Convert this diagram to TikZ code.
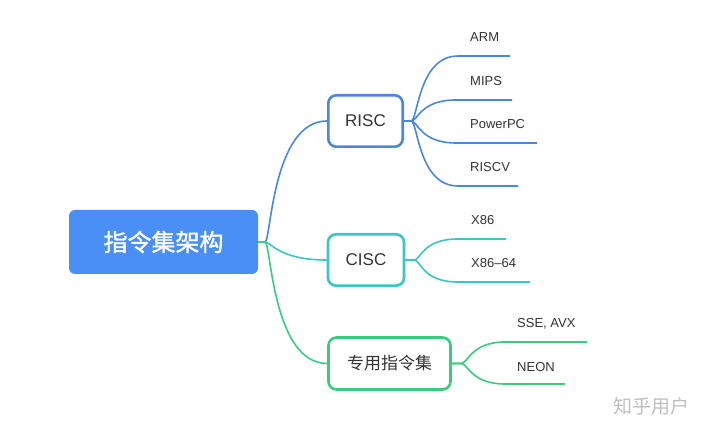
\documentclass[tikz,border=0pt]{standalone}
\usepackage{fontspec}
\setmainfont{Liberation Sans}
\newfontfamily\cjk{Noto Sans CJK SC}
\newfontfamily\cjkbold[FakeBold=1.4]{Noto Sans CJK SC}
\definecolor{rootblue}{HTML}{4A8FF5}
\definecolor{riscblue}{HTML}{4A88DC}
\definecolor{ciscteal}{HTML}{3AC6C2}
\definecolor{specgreen}{HTML}{3ACB7E}
\definecolor{txt}{HTML}{333333}
\begin{document}
\begin{tikzpicture}[x=1pt,y=-1pt,
  rootbox/.style={fill=rootblue, rounded corners=6pt, minimum width=189pt, minimum height=64pt, text=white, inner sep=0pt, font=\cjkbold\fontsize{24}{24}\selectfont},
  midbox/.style={draw=#1, line width=2.6pt, rounded corners=8pt, fill=white, text=txt, inner sep=0pt},
  conn/.style={draw=#1, line width=1.6pt},
  leaf/.style={anchor=base west, font=\fontsize{13}{13}\selectfont, text=txt, inner sep=0pt},
  wm/.style={font=\cjk\fontsize{19}{19}\selectfont, text=black!25, inner sep=0pt}
]
\useasboundingbox (0,0) rectangle (720,435);
\fill[white] (0,0) rectangle (720,435);

% main nodes
\node[rootbox] (root) at (163.5,242) {指令集架构};
\node[midbox=riscblue, minimum width=74.4pt, minimum height=51.4pt, font=\fontsize{17}{17}\selectfont] (risc) at (365.5,121) {RISC};
\node[midbox=ciscteal, minimum width=76pt, minimum height=51.4pt, font=\fontsize{17}{17}\selectfont] (cisc) at (366,260) {CISC};
\node[midbox=specgreen, minimum width=122pt, minimum height=52pt, font=\cjk\fontsize{17}{17}\selectfont] (spec) at (389.5,363.5) {专用指令集};

% junctions
\coordinate (rootJ) at (265,242);
\coordinate (riscJ) at (411,121);
\coordinate (ciscJ) at (414,260);
\coordinate (specJ) at (461,363.5);

% root connectors
\draw[conn=riscblue] (root.east) -- (rootJ) .. controls +(6,0) and +(-55,0) .. (risc.west);
\draw[conn=ciscteal] (root.east) -- (rootJ) .. controls +(6,0) and +(-48,0) .. (cisc.west);
\draw[conn=specgreen] (root.east) -- (rootJ) .. controls +(6,0) and +(-55,0) .. (spec.west);

% leaf coordinates
\coordinate (armS) at (458,56);   \coordinate (armE) at (510,56);
\coordinate (mipsS) at (456,100); \coordinate (mipsE) at (512,100);
\coordinate (ppcS) at (456,143);  \coordinate (ppcE) at (537,143);
\coordinate (rvS) at (458,186);   \coordinate (rvE) at (518,186);
\coordinate (x86S) at (458,239);  \coordinate (x86E) at (506,239);
\coordinate (x64S) at (458,282);  \coordinate (x64E) at (530,282);
\coordinate (sseS) at (505,342);  \coordinate (sseE) at (587,342);
\coordinate (neonS) at (505,384); \coordinate (neonE) at (565,384);

% RISC leaves
\draw[conn=riscblue] (risc.east) -- (riscJ) .. controls +(7,0) and +(-40,0) .. (armS) -- (armE);
\draw[conn=riscblue] (risc.east) -- (riscJ) .. controls +(7,0) and +(-36,0) .. (mipsS) -- (mipsE);
\draw[conn=riscblue] (risc.east) -- (riscJ) .. controls +(7,0) and +(-36,0) .. (ppcS) -- (ppcE);
\draw[conn=riscblue] (risc.east) -- (riscJ) .. controls +(7,0) and +(-40,0) .. (rvS) -- (rvE);
% CISC leaves
\draw[conn=ciscteal] (cisc.east) -- (ciscJ) .. controls +(7,0) and +(-36,0) .. (x86S) -- (x86E);
\draw[conn=ciscteal] (cisc.east) -- (ciscJ) .. controls +(7,0) and +(-36,0) .. (x64S) -- (x64E);
% special leaves
\draw[conn=specgreen] (spec.east) -- (specJ) .. controls +(7,0) and +(-34,0) .. (sseS) -- (sseE);
\draw[conn=specgreen] (spec.east) -- (specJ) .. controls +(7,0) and +(-34,0) .. (neonS) -- (neonE);

% leaf labels
\node[leaf] (arm) at (470,42) {ARM};
\node[leaf] (mips) at (470,86) {MIPS};
\node[leaf] (ppc) at (470,129) {PowerPC};
\node[leaf] (rv) at (470,172) {RISCV};
\node[leaf] (x86) at (471,225) {X86};
\node[leaf] (x64) at (471,268) {X86–64};
\node[leaf] (sse) at (517,328) {SSE, AVX};
\node[leaf] (neon) at (517,371) {NEON};

% watermark
\node[wm] (mark) at (651,406) {知乎用户};
\end{tikzpicture}
\end{document}
